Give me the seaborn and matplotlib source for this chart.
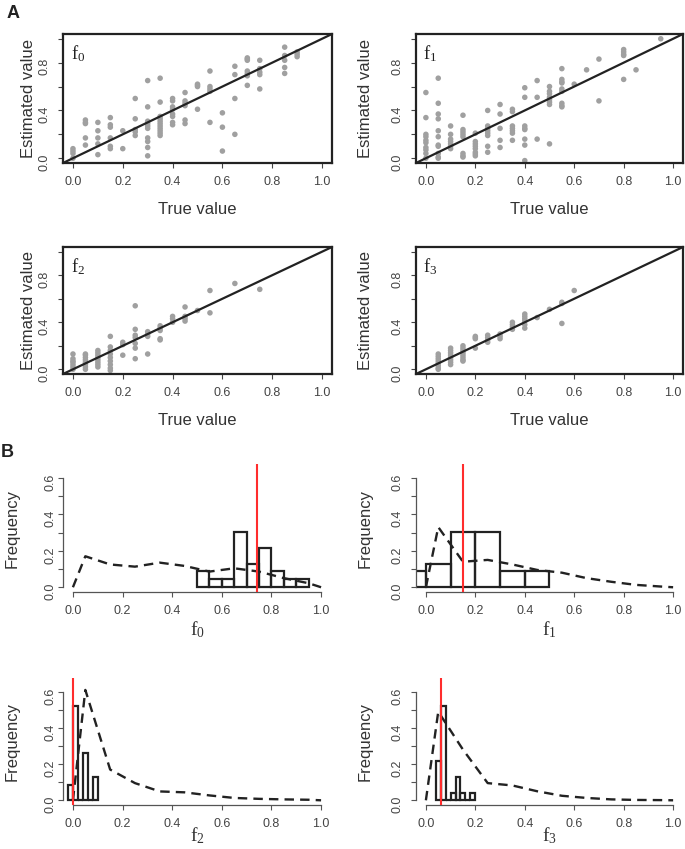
import pandas as pd
import matplotlib
matplotlib.use('Agg')
import matplotlib.pyplot as plt
import seaborn as sns

# ---- A: estimated vs true value (estimates grouped by true value)
f0_est = {
    0.00: [0.08, 0.06, 0.04, 0.0],
    0.05: [0.32, 0.30, 0.29, 0.17, 0.11],
    0.10: [0.30, 0.23, 0.17, 0.12, 0.03],
    0.15: [0.34, 0.28, 0.26, 0.17, 0.10, 0.08],
    0.20: [0.23, 0.08],
    0.25: [0.50, 0.33, 0.24, 0.22, 0.19],
    0.30: [0.65, 0.43, 0.31, 0.29, 0.27, 0.25, 0.17, 0.14, 0.09, 0.02],
    0.35: [0.67, 0.47, 0.35, 0.33, 0.31, 0.29, 0.27, 0.25, 0.23, 0.21, 0.19],
    0.40: [0.50, 0.48, 0.43, 0.41, 0.37, 0.35, 0.30, 0.28],
    0.45: [0.55, 0.48, 0.46, 0.44, 0.32, 0.29],
    0.50: [0.62, 0.61, 0.60, 0.41],
    0.55: [0.73, 0.60, 0.58, 0.56, 0.30],
    0.60: [0.38, 0.26, 0.06],
    0.65: [0.77, 0.70, 0.50, 0.20],
    0.70: [0.84, 0.83, 0.82, 0.73, 0.71, 0.69, 0.61],
    0.75: [0.82, 0.75, 0.72, 0.70, 0.58],
    0.85: [0.93, 0.86, 0.82, 0.76, 0.71],
    0.90: [0.89, 0.87, 0.85],
}
f1_est = {
    0.00: [0.55, 0.34, 0.20, 0.18, 0.15, 0.13, 0.09, 0.07, 0.04, 0.0],
    0.05: [0.67, 0.46, 0.37, 0.33, 0.23, 0.18, 0.11, 0.10, 0.04, 0.01, 0.0],
    0.10: [0.27, 0.20, 0.16, 0.14, 0.12, 0.10, 0.08],
    0.15: [0.36, 0.24, 0.22, 0.20, 0.18, 0.04, 0.02, 0.01],
    0.20: [0.21, 0.14, 0.12, 0.10, 0.08, 0.05, 0.035, 0.02],
    0.25: [0.40, 0.27, 0.25, 0.23, 0.21, 0.19, 0.10, 0.05],
    0.30: [0.45, 0.37, 0.25, 0.15, 0.09],
    0.35: [0.41, 0.39, 0.27, 0.25, 0.23, 0.21, 0.15],
    0.40: [0.59, 0.51, 0.27, 0.25, 0.24, 0.16, 0.11, -0.02],
    0.45: [0.65, 0.51, 0.16],
    0.50: [0.60, 0.56, 0.54, 0.51, 0.49, 0.47, 0.45, 0.12],
    0.55: [0.75, 0.66, 0.64, 0.63, 0.58, 0.56, 0.46, 0.44, 0.43],
    0.60: [0.62],
    0.65: [0.74],
    0.70: [0.83, 0.48],
    0.80: [0.91, 0.89, 0.87, 0.86, 0.66],
    0.85: [0.74],
    0.95: [1.0],
}
f2_est = {
    0.00: [0.13, 0.09, 0.07, 0.06, 0.04, 0.02, 0.0],
    0.05: [0.13, 0.12, 0.10, 0.08, 0.06, 0.04, 0.02, 0.0],
    0.10: [0.16, 0.14, 0.12, 0.10, 0.08, 0.06, 0.04, 0.02],
    0.15: [0.28, 0.19, 0.16, 0.13, 0.10, 0.07, 0.04, 0.01, -0.01],
    0.20: [0.23, 0.21, 0.12],
    0.25: [0.54, 0.34, 0.29, 0.27, 0.22, 0.18, 0.09],
    0.30: [0.32, 0.30, 0.28, 0.13],
    0.35: [0.37, 0.35, 0.33, 0.26, 0.25],
    0.40: [0.45, 0.43, 0.40],
    0.45: [0.53, 0.45, 0.43, 0.41],
    0.50: [0.50],
    0.55: [0.67, 0.48],
    0.65: [0.73],
    0.75: [0.68],
}
f3_est = {
    0.05: [0.13, 0.11, 0.09, 0.07, 0.05, 0.03, 0.01, 0.0],
    0.10: [0.18, 0.16, 0.14, 0.12, 0.10, 0.08, 0.06, 0.04],
    0.15: [0.20, 0.18, 0.16, 0.14, 0.12, 0.10, 0.08, 0.07],
    0.20: [0.28, 0.27, 0.26, 0.18],
    0.25: [0.29, 0.27, 0.25, 0.23],
    0.30: [0.30, 0.28, 0.26],
    0.35: [0.40, 0.38, 0.36, 0.34],
    0.40: [0.47, 0.45, 0.43, 0.41, 0.38, 0.35],
    0.45: [0.44],
    0.50: [0.51],
    0.55: [0.57, 0.56, 0.39],
    0.60: [0.67],
}

# ---- B: posterior histograms, prior curves and true values
f0_edges = [0.50, 0.55, 0.60, 0.65, 0.70, 0.75, 0.80, 0.85, 0.90, 0.95]
f0_freq = [0.087, 0.043, 0.043, 0.304, 0.130, 0.217, 0.087, 0.043, 0.043]
f1_edges = [-0.1, 0.0, 0.1, 0.2, 0.3, 0.4, 0.5]
f1_freq = [0.087, 0.130, 0.304, 0.304, 0.087, 0.087]
f2_edges = [-0.02, 0.0, 0.02, 0.04, 0.06, 0.08, 0.10]
f2_freq = [0.087, 0.522, 0.0, 0.261, 0.0, 0.130]
f3_edges = [0.04, 0.06, 0.08, 0.10, 0.12, 0.14, 0.16, 0.18, 0.20]
f3_freq = [0.217, 0.522, 0.0, 0.043, 0.130, 0.043, 0.0, 0.043]

prior_x = [0.0, 0.05, 0.15, 0.25, 0.35, 0.45, 0.55, 0.65, 0.75, 0.85, 0.95, 1.0]
f0_prior = [0.0, 0.17, 0.125, 0.113, 0.135, 0.117, 0.086, 0.104, 0.086, 0.05, 0.022, 0.0]
f1_prior = [0.0, 0.33, 0.14, 0.15, 0.125, 0.095, 0.08, 0.05, 0.03, 0.013, 0.004, 0.0]
f2_prior = [0.0, 0.61, 0.17, 0.095, 0.049, 0.044, 0.027, 0.013, 0.008, 0.005, 0.003, 0.0]
f3_prior = [0.0, 0.49, 0.28, 0.095, 0.082, 0.05, 0.025, 0.013, 0.005, 0.002, 0.001, 0.0]

true_values = [0.74, 0.15, 0.0, 0.06]
names = [r'$\mathrm{f_0}$', r'$\mathrm{f_1}$', r'$\mathrm{f_2}$', r'$\mathrm{f_3}$']

sns.set_style('ticks')
plt.rcParams['font.family'] = ['Liberation Sans', 'DejaVu Sans']
plt.rcParams['mathtext.fontset'] = 'custom'
plt.rcParams['mathtext.rm'] = 'Liberation Serif'
plt.rcParams['mathtext.it'] = 'Liberation Serif:italic'

TXT = '#333333'
W, H = 685, 849
fig = plt.figure(figsize=(W / 100, H / 100), dpi=100)


def add_ax(l, r, t, b):
    return fig.add_axes([l / W, 1 - b / H, (r - l) / W, (b - t) / H])


def frame(est):
    rows = [(t, e) for t, vals in est.items() for e in vals]
    return pd.DataFrame(rows, columns=['true', 'est'])


# panel A
a_boxes = [(63, 332, 34, 163), (416, 683, 34, 163), (63, 332, 247, 374), (416, 683, 247, 374)]
a_ylab = [-0.130, -0.188, -0.130, -0.188]
for i, est in enumerate([f0_est, f1_est, f2_est, f3_est]):
    ax = add_ax(*a_boxes[i])
    sns.scatterplot(data=frame(est), x='true', y='est', color='#A0A0A0', s=16,
                    edgecolor='none', linewidth=0, ax=ax, zorder=2)
    ax.axline((0, 0), slope=1, color='#222222', lw=1.6, zorder=3)
    ax.set_xlim(-0.04, 1.04)
    ax.set_ylim(-0.04, 1.04)
    ax.set_xticks([0, 0.2, 0.4, 0.6, 0.8, 1.0])
    ax.set_xticklabels(['0.0', '0.2', '0.4', '0.6', '0.8', '1.0'])
    ax.set_yticks([0, 0.2, 0.4, 0.6, 0.8, 1.0])
    ax.set_yticklabels(['0.0', '', '0.4', '', '0.8', ''])
    ax.tick_params(length=3.6, width=0.8, color='#444444', labelsize=9,
                   labelcolor='#444444', pad=5.5)
    ax.tick_params(axis='y', labelrotation=90)
    for sp in ax.spines.values():
        sp.set_linewidth(1.6)
        sp.set_color('#222222')
    ax.set_xlabel('True value', fontsize=12, color=TXT)
    ax.set_ylabel('Estimated value', fontsize=12, color=TXT)
    ax.xaxis.label.set_va('center')
    ax.yaxis.label.set_va('center')
    ax.xaxis.set_label_coords(0.5, -0.364)
    ax.yaxis.set_label_coords(a_ylab[i], 0.5)
    ax.text(0.028, 0.93, names[i], transform=ax.transAxes, ha='left', va='top',
            fontsize=13.5, color='#222222')

# panel B
b_boxes = [(63, 331, 464, 592), (416, 683, 464, 592), (63, 331, 678, 805), (416, 683, 678, 805)]
b_xlab = [-0.297, -0.297, -0.24, -0.24]
b_pad = [1, 5.5, 1, 5.5]
hists = [(f0_edges, f0_freq), (f1_edges, f1_freq), (f2_edges, f2_freq), (f3_edges, f3_freq)]
priors = [f0_prior, f1_prior, f2_prior, f3_prior]
for i in range(4):
    ax = add_ax(*b_boxes[i])
    edges, freq = hists[i]
    centers = [(edges[k] + edges[k + 1]) / 2 for k in range(len(freq))]
    sns.histplot(x=centers, weights=freq, bins=edges, fill=False, color='#222222',
                 linewidth=1.6, ax=ax)
    sns.lineplot(x=prior_x, y=priors[i], color='#222222', lw=1.7,
                 linestyle=(0, (4, 2.6)), ax=ax)
    ax.axvline(true_values[i], color='#FF2D2D', lw=1.5, zorder=5)
    ax.set_xlim(-0.04, 1.04)
    ax.set_ylim(-0.026, 0.676)
    ax.set_xticks([0, 0.2, 0.4, 0.6, 0.8, 1.0])
    ax.set_xticklabels(['0.0', '0.2', '0.4', '0.6', '0.8', '1.0'])
    ax.set_yticks([0, 0.1, 0.2, 0.3, 0.4, 0.5, 0.6])
    ax.set_yticklabels(['0.0', '', '0.2', '', '0.4', '', '0.6'])
    ax.tick_params(length=3.6, width=0.8, color='#555555', labelsize=9,
                   labelcolor='#444444', pad=5.5)
    ax.tick_params(axis='y', labelrotation=90, pad=b_pad[i])
    sns.despine(ax=ax)
    ax.spines['bottom'].set_bounds(0, 1)
    ax.spines['left'].set_bounds(0, 0.6)
    for side in ['bottom', 'left']:
        ax.spines[side].set_linewidth(0.9)
        ax.spines[side].set_color('#555555')
    ax.set_xlabel(names[i], fontsize=14, color=TXT)
    ax.set_ylabel('Frequency', fontsize=12, color=TXT)
    ax.xaxis.label.set_va('center')
    ax.yaxis.label.set_va('center')
    ax.xaxis.set_label_coords(0.5, b_xlab[i])
    ax.yaxis.set_label_coords(-0.19, 0.5)

fig.text(7 / W, 1 - 5 / H, 'A', fontsize=13, fontweight='bold', color='#222222',
         ha='left', va='top')
fig.text(1 / W, 1 - 444 / H, 'B', fontsize=13, fontweight='bold', color='#222222',
         ha='left', va='top')

fig.savefig('out.png', dpi=100, facecolor='white')
